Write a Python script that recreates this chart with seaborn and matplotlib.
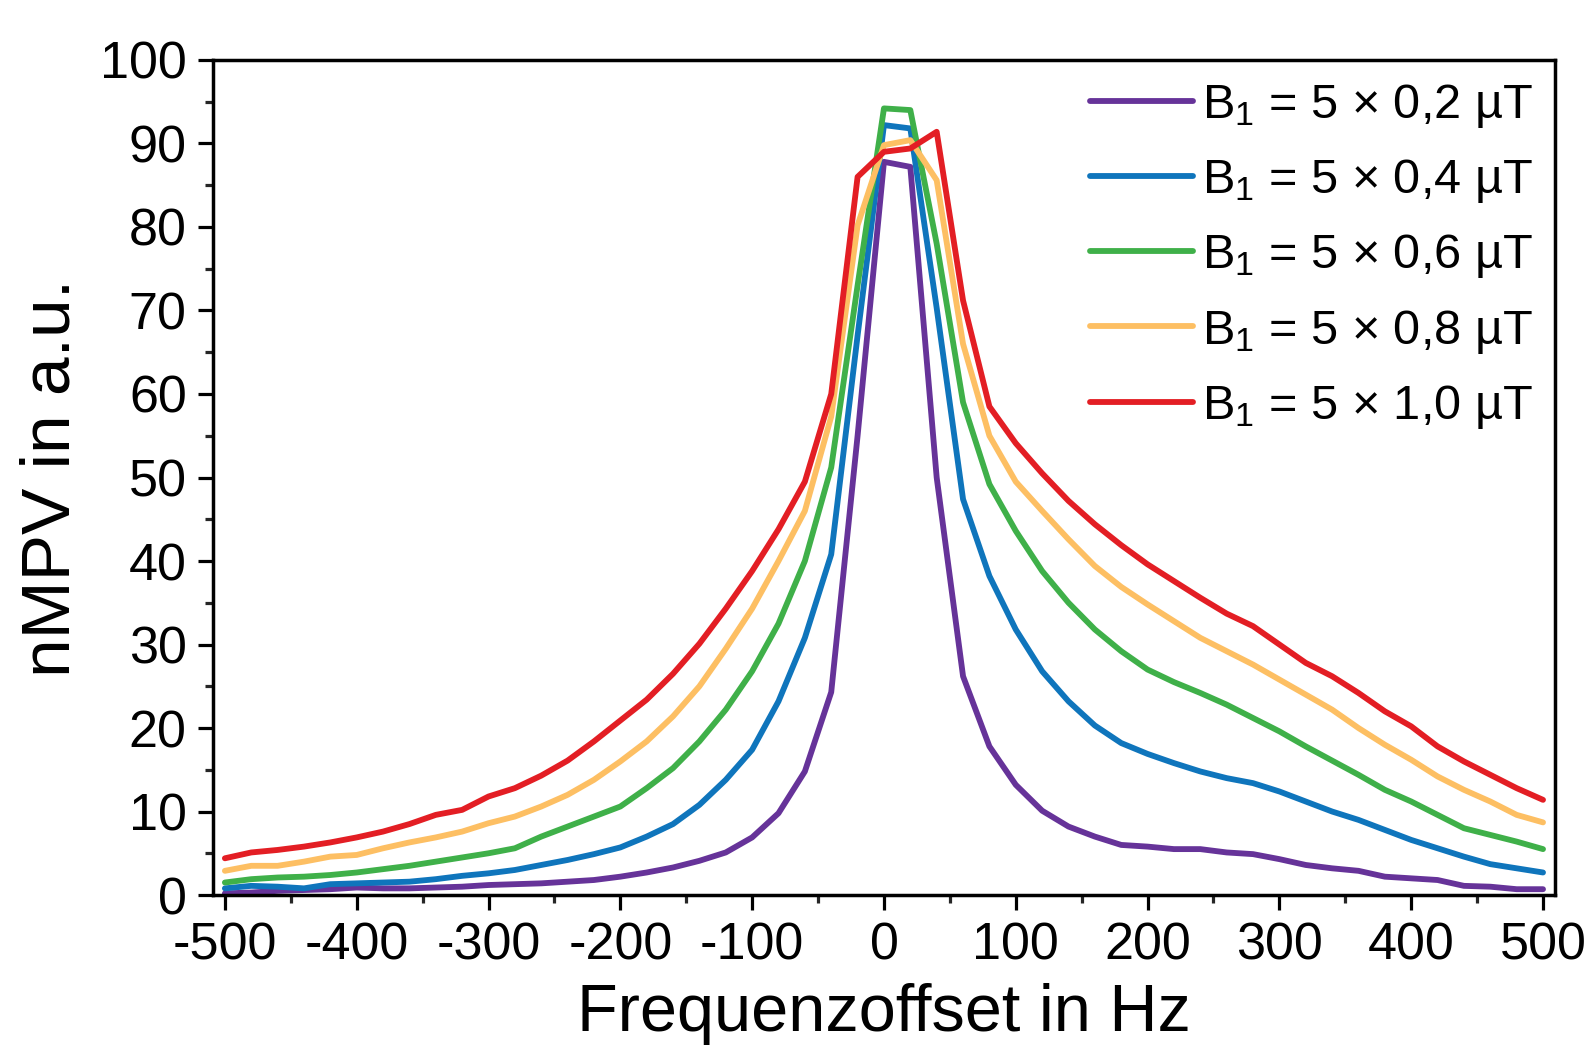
import numpy as np
import pandas as pd
import matplotlib
matplotlib.use("Agg")
import matplotlib.pyplot as plt
from matplotlib.ticker import MultipleLocator
import seaborn as sns

# frequency offsets in Hz (20 Hz steps)
freq = list(range(-500, 501, 20))

labels = ["B$_1$ = 5 × 0,2 µT", "B$_1$ = 5 × 0,4 µT", "B$_1$ = 5 × 0,6 µT",
          "B$_1$ = 5 × 0,8 µT", "B$_1$ = 5 × 1,0 µT"]
colors = ["#663399", "#0f75bc", "#3fb049", "#fdbf63", "#e31e24"]

b1_02 = [0.2, 0.3, 0.5, 0.6, 0.7, 0.9, 0.8, 0.8, 0.9, 1.0, 1.2, 1.3, 1.4, 1.6, 1.8, 2.2, 2.7,
         3.3, 4.1, 5.1, 6.9, 9.8, 14.8, 24.3, 55.0, 87.8, 87.2, 50.0, 26.2, 17.8, 13.2, 10.1,
         8.2, 7.0, 6.0, 5.8, 5.5, 5.5, 5.1, 4.9, 4.3, 3.6, 3.2, 2.9, 2.2, 2.0, 1.8, 1.1, 1.0,
         0.7, 0.7]
b1_04 = [0.8, 1.1, 1.0, 0.8, 1.3, 1.4, 1.5, 1.6, 1.9, 2.3, 2.6, 3.0, 3.6, 4.2, 4.9, 5.7, 7.0,
         8.5, 10.8, 13.8, 17.4, 23.2, 30.8, 40.8, 67.0, 92.2, 91.8, 70.3, 47.4, 38.2, 31.8,
         26.8, 23.2, 20.3, 18.2, 16.9, 15.8, 14.8, 14.0, 13.4, 12.4, 11.2, 10.0, 9.0, 7.8, 6.6,
         5.6, 4.6, 3.7, 3.2, 2.7]
b1_06 = [1.5, 1.9, 2.1, 2.2, 2.4, 2.7, 3.1, 3.5, 4.0, 4.5, 5.0, 5.6, 7.0, 8.2, 9.4, 10.6, 12.8,
         15.2, 18.4, 22.2, 26.8, 32.5, 40.0, 51.2, 73.0, 94.2, 94.0, 78.0, 59.0, 49.2, 43.6,
         38.8, 35.0, 31.8, 29.2, 27.0, 25.5, 24.2, 22.8, 21.2, 19.6, 17.8, 16.1, 14.4, 12.6,
         11.2, 9.6, 8.0, 7.2, 6.4, 5.5]
b1_08 = [2.9, 3.5, 3.5, 4.0, 4.6, 4.8, 5.6, 6.3, 6.9, 7.6, 8.6, 9.4, 10.6, 12.0, 13.8, 16.0,
         18.4, 21.4, 25.0, 29.5, 34.3, 40.0, 46.0, 57.3, 80.2, 89.8, 90.4, 85.6, 66.0, 55.0,
         49.5, 46.0, 42.6, 39.4, 36.9, 34.8, 32.8, 30.8, 29.2, 27.6, 25.8, 24.0, 22.2, 20.0,
         18.0, 16.2, 14.2, 12.6, 11.2, 9.6, 8.7]
b1_10 = [4.4, 5.1, 5.4, 5.8, 6.3, 6.9, 7.6, 8.5, 9.6, 10.2, 11.8, 12.8, 14.3, 16.1, 18.4, 20.9,
         23.4, 26.5, 30.1, 34.3, 38.8, 43.8, 49.5, 60.0, 86.0, 89.0, 89.4, 91.4, 71.2, 58.5,
         54.1, 50.5, 47.2, 44.4, 41.9, 39.6, 37.6, 35.6, 33.7, 32.2, 30.0, 27.8, 26.2, 24.2,
         22.0, 20.2, 17.8, 16.0, 14.4, 12.8, 11.4]

series = [b1_02, b1_04, b1_06, b1_08, b1_10]
frames = []
for lab, vals in zip(labels, series):
    frames.append(pd.DataFrame({"freq": freq, "nmpv": vals, "B1": lab}))
df = pd.concat(frames, ignore_index=True)

sns.set_theme(style="ticks")
plt.rcParams["font.family"] = ["Liberation Sans", "DejaVu Sans"]
plt.rcParams["mathtext.fontset"] = "custom"
plt.rcParams["mathtext.rm"] = "Liberation Sans"
plt.rcParams["mathtext.it"] = "Liberation Sans"
plt.rcParams["axes.unicode_minus"] = False
plt.rcParams["text.color"] = "black"
plt.rcParams["axes.labelcolor"] = "black"

fig = plt.figure(figsize=(15.85, 10.52), dpi=100)
ax = fig.add_axes([0.1344, 0.1492, 0.8466, 0.7938])

sns.lineplot(data=df, x="freq", y="nmpv", hue="B1", palette=colors, linewidth=4.2,
             ax=ax, sort=False)

ax.set_xlim(-509, 509)
ax.set_ylim(0, 100)
ax.xaxis.set_major_locator(MultipleLocator(100))
ax.xaxis.set_minor_locator(MultipleLocator(50))
ax.yaxis.set_major_locator(MultipleLocator(10))
ax.yaxis.set_minor_locator(MultipleLocator(5))
ax.tick_params(which="major", direction="out", length=11, width=2.3, labelsize=37.5,
               pad=8, colors="black", top=False, right=False)
ax.tick_params(which="minor", direction="out", length=5.5, width=2.3, top=False, right=False)
for sp in ax.spines.values():
    sp.set_linewidth(2.5)
    sp.set_color("black")
    sp.set_visible(True)

ax.set_xlabel("Frequenzoffset in Hz", fontsize=48, labelpad=9)
ax.set_ylabel("nMPV in a.u.", fontsize=50, labelpad=12)

leg = ax.legend(loc="upper right", frameon=False, fontsize=35, handlelength=2.1,
                labelspacing=0.56, borderaxespad=0.05, handletextpad=0.2)
for line in leg.get_lines():
    line.set_linewidth(4.2)

fig.savefig("out.png", dpi=100)
